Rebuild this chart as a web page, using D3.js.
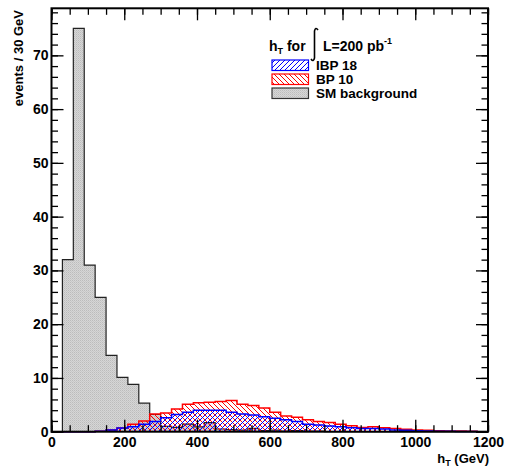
<!DOCTYPE html>
<html><head><meta charset="utf-8">
<script src="https://cdn.jsdelivr.net/npm/d3@7"></script>
<style>
body{margin:0;background:#fff;}
text{font-family:"Liberation Sans",Arial,Helvetica,sans-serif;font-weight:bold;}
</style></head>
<body><svg id="c" width="505" height="468"></svg>
<script>
// ---- data: 30 GeV bins from 0 to 1200 GeV ----
const binWidth = 30;
const xDomain = [0, 1200];
const yMax = 78.75;
const smValues = [0,32,75,31,25,14.2,10.1,8.8,5.3,3.2,
  1.0,0.8,1.4,0.9,1.7,0.5,0.4,0.3,0.6,0.2,
  0.3,0.1,0.2,0.1,0.1,0,0,0,0,0,
  0,0,0,0,0,0,0,0,0,0];
const bp10Values = [0,0,0,0,0.1,0.3,0.7,1.4,2.0,3.3,
  3.5,4.2,5.1,5.4,5.5,5.6,5.8,5.1,4.85,4.4,
  3.6,2.9,2.7,2.2,1.9,1.7,1.4,1.1,0.8,0.9,
  0.75,0.6,0.45,0.3,0.25,0.2,0.15,0.15,0.1,0];
const ibp18Values = [0,0,0,0,0.1,0.3,0.7,0.9,1.4,1.9,
  2.6,3.2,3.6,4.0,4.0,4.0,3.6,3.3,3.1,2.8,
  2.5,2.2,1.9,1.4,1.25,1.05,0.9,0.75,0.6,0.6,
  0.5,0.3,0.25,0.2,0.15,0.1,0.1,0.05,0.05,0];
const xMajorTicks = [0,200,400,600,800,1000,1200];
const yMajorTicks = [0,10,20,30,40,50,60,70];
const legendLabels = ["IBP 18","BP 10","SM background"];

const svg = d3.select("#c");
const L=51.5, R=488, T=8.3, B=431.7;
const x = d3.scaleLinear().domain(xDomain).range([L,R]);
const y = d3.scaleLinear().domain([0,yMax]).range([B,T]);

// patterns (pixel-crisp diagonal hatching)
const defs = svg.append("defs");
function hatch(id, color, up){
  const n = 5;
  const p = defs.append("pattern").attr("id",id).attr("patternUnits","userSpaceOnUse")
    .attr("width",n).attr("height",n);
  for(let i=0;i<n;i++){
    p.append("rect").attr("x",i).attr("y", up ? n-1-i : i).attr("width",1).attr("height",1)
      .attr("fill",color).attr("shape-rendering","crispEdges");
  }
}
hatch("hBlue","#0000ff",true);
hatch("hRed","#ff0000",false);
const g = defs.append("pattern").attr("id","gray").attr("patternUnits","userSpaceOnUse")
  .attr("width",2).attr("height",2);
g.append("rect").attr("width",2).attr("height",2).attr("fill","#d6d6d6");
g.append("rect").attr("width",1).attr("height",1).attr("fill","#bcbcbc");
g.append("rect").attr("x",1).attr("y",1).attr("width",1).attr("height",1).attr("fill","#c8c8c8");

function stepPts(vals){
  const pts=[[0,0]];
  vals.forEach((v,i)=>pts.push([i*binWidth,v]));
  pts.push([vals.length*binWidth, vals[vals.length-1]]);
  pts.push([vals.length*binWidth, 0]);
  return pts;
}
const line = d3.line().x(d=>x(d[0])).y(d=>y(d[1])).curve(d3.curveStepAfter);

svg.append("path").attr("d",line(stepPts(smValues))).attr("fill","url(#gray)")
  .attr("stroke","#222").attr("stroke-width",1.2);
svg.append("path").attr("d",line(stepPts(bp10Values))).attr("fill","url(#hRed)")
  .attr("stroke","#ff0000").attr("stroke-width",1.5);
svg.append("path").attr("d",line(stepPts(ibp18Values))).attr("fill","url(#hBlue)")
  .attr("stroke","#0000ff").attr("stroke-width",1.5);

// axes
const xMinor = d3.range(0,1201,50), yMinor = d3.range(0,79,2);
function ax(axisFn, scale, ticks, size, transform, labels, pad){
  const a = axisFn(scale).tickValues(ticks).tickSizeInner(-size).tickSizeOuter(0).tickPadding(pad||4);
  if(!labels) a.tickFormat("");
  else a.tickFormat(d3.format("d"));
  const gg = svg.append("g").attr("transform",transform).call(a);
  gg.select(".domain").remove();
  gg.selectAll("line").attr("stroke","#000").attr("stroke-width",1.3);
  gg.selectAll("text").attr("font-size",14).attr("fill","#000")
    .style("font-family","'Liberation Sans',Arial,sans-serif").style("font-weight","bold");
  return gg;
}
ax(d3.axisBottom,x,xMinor,6.5,`translate(0,${B})`,false);
ax(d3.axisBottom,x,xMajorTicks,12,`translate(0,${B})`,true,5);
ax(d3.axisTop,x,xMinor,6.5,`translate(0,${T})`,false);
ax(d3.axisTop,x,xMajorTicks,12,`translate(0,${T})`,false);
ax(d3.axisLeft,y,yMinor,6.5,`translate(${L},0)`,false);
ax(d3.axisLeft,y,yMajorTicks,12,`translate(${L},0)`,true,3);
ax(d3.axisRight,y,yMinor,6.5,`translate(${R},0)`,false);
ax(d3.axisRight,y,yMajorTicks,12,`translate(${R},0)`,false);

svg.append("rect").attr("x",L).attr("y",T).attr("width",R-L).attr("height",B-T)
  .attr("fill","none").attr("stroke","#000").attr("stroke-width",2);

// axis titles
svg.append("text").attr("transform","translate(23,10) rotate(-90)").attr("text-anchor","end")
  .attr("font-size",13).text("events / 30 GeV");
const xt = svg.append("text").attr("x",489).attr("y",463).attr("text-anchor","end").attr("font-size",13);
xt.append("tspan").text("h");
xt.append("tspan").attr("font-size",9).attr("dy",3).text("T");
xt.append("tspan").attr("dy",-3).text(" (GeV)");

// legend
const lt = svg.append("text").attr("x",269).attr("y",51).attr("font-size",14);
lt.append("tspan").text("h");
lt.append("tspan").attr("font-size",9).attr("dy",3).text("T");
lt.append("tspan").attr("dy",-3).text(" for");
svg.append("path").attr("d","M318,30 Q315.5,26.5 314.5,31 L314.5,58 Q313.5,62.5 311,59")
  .attr("fill","none").attr("stroke","#000").attr("stroke-width",1.6);
const lt2 = svg.append("text").attr("x",323).attr("y",51).attr("font-size",14);
lt2.append("tspan").text("L=200 pb");
lt2.append("tspan").attr("font-size",9).attr("dy",-7).text("-1");

const legFills = ["url(#hBlue)","url(#hRed)","url(#gray)"];
const legStroke = ["#0000ff","#ff0000","#333"];
const legY = [60,74,88];
legendLabels.forEach((lab,i)=>{
  svg.append("rect").attr("x",272).attr("y",legY[i]).attr("width",36.5).attr("height",10.5)
    .attr("fill",legFills[i]).attr("stroke",legStroke[i]).attr("stroke-width",1.2);
  svg.append("text").attr("x",316).attr("y",legY[i]+10).attr("font-size",13.5).text(lab);
});
</script></body></html>
